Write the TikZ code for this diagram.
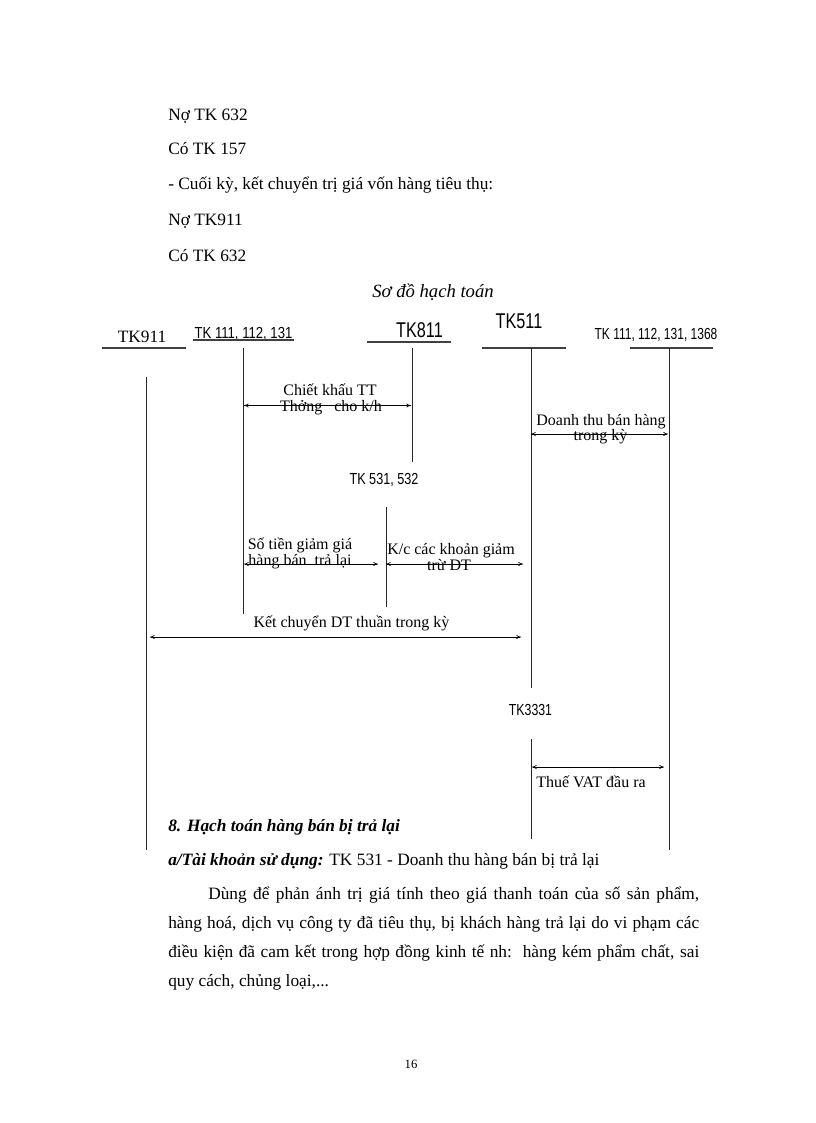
\documentclass[tikz,border=0pt]{standalone}
\usepackage{fontspec}
\setmainfont{Liberation Serif}
\newfontfamily\arialf{Liberation Sans}
\usepackage{graphicx}
\usetikzlibrary{arrows.meta}
\newcommand\condx[2]{\scalebox{#1}[1]{#2}}
\begin{document}
\begin{tikzpicture}[x=0.75pt,y=-0.75pt,
  body/.style={font=\fontsize{13pt}{15pt}\selectfont, inner sep=0pt, anchor=base west},
  lbl/.style={font=\fontsize{12pt}{14pt}\selectfont, inner sep=0pt, anchor=base},
  hdr/.style={font=\arialf\fontsize{12pt}{14pt}\selectfont, inner sep=0pt, anchor=base},
  hdrbig/.style={font=\arialf\fontsize{16pt}{18pt}\selectfont, inner sep=0pt, anchor=base},
  tline/.style={line width=0.6pt, black!85},
  uline/.style={line width=0.9pt, black!75},
  flow/.style={line width=0.5pt, {To[length=3.5pt,width=3pt]}-{To[length=3.5pt,width=3pt]}}
]
\useasboundingbox (0,0) rectangle (816,1123);
\fill[white] (0,0) rectangle (816,1123);

% top text
\node[body] (t1) at (168,121) {Nợ TK 632};
\node[body] (t2) at (168,155) {Có TK 157};
\node[body] (t3) at (168,190) {- Cuối kỳ, kết chuyển trị giá vốn hàng tiêu thụ:};
\node[body] (t4) at (168,226) {Nợ TK911};
\node[body] (t5) at (168,261) {Có TK 632};

\node[font=\itshape\fontsize{14pt}{16pt}\selectfont, inner sep=0pt, anchor=base] (title) at (433,297) {Sơ đồ hạch toán};

% headers
\node[body, anchor=base] (h911) at (142,342) {TK911};
\draw[uline] (102,348) -- (186,348);
\node[hdr] (h111) at (243.5,338) {\condx{0.82}{TK 111, 112, 131}};
\draw[uline] (193,340) -- (294,340);
\node[hdrbig] (h811) at (419.5,337) {\condx{0.76}{TK811}};
\draw[uline] (367,342) -- (451,342);
\node[hdrbig] (h511) at (519,328) {\condx{0.76}{TK511}};
\draw[uline] (482,348) -- (566,348);
\node[hdr] (h1368) at (656,339) {\condx{0.75}{TK 111, 112, 131, 1368}};
\draw[uline] (630,348) -- (713,348);
\node[hdr] (h531) at (384,484) {\condx{0.79}{TK 531, 532}};
\node[hdr] (h3331) at (530.5,715) {\condx{0.77}{TK3331}};

% account lines
\coordinate (Atop) at (146,377);  \coordinate (Abot) at (146,850);
\coordinate (Btop) at (243,348);  \coordinate (Bbot) at (243,614);
\coordinate (Ctop) at (412,348);  \coordinate (Cbot) at (412,462);
\coordinate (Dtop) at (386,507);  \coordinate (Dbot) at (386,607);
\coordinate (Etop) at (531,348);  \coordinate (Ebot) at (531,688);
\coordinate (Ftop) at (669,348);  \coordinate (Fbot) at (669,850);
\coordinate (Gtop) at (531,739);  \coordinate (Gbot) at (531,839);
\foreach \n in {A,B,C,D,E,F,G} \draw[tline] (\n top) -- (\n bot);

% arrows
\coordinate (ck1) at (244,405.5); \coordinate (ck2) at (411,405.5);
\coordinate (dt1) at (531,434);   \coordinate (dt2) at (668,434);
\coordinate (st1) at (244,564);   \coordinate (st2) at (378,564);
\coordinate (kc1) at (386,564);   \coordinate (kc2) at (523,564);
\coordinate (kd1) at (150,637);   \coordinate (kd2) at (521,637);
\coordinate (vt1) at (532,767);   \coordinate (vt2) at (664,767);
\draw[flow] (ck1) -- (ck2);
\draw[flow] (dt1) -- (dt2);
\draw[flow] (st1) -- (st2);
\draw[flow] (kc1) -- (kc2);
\draw[flow] (kd1) -- (kd2);
\draw[flow] (vt1) -- (vt2);

% labels
\node[lbl] (l1a) at (330,395) {Chiết khấu TT};
\node[lbl] (l1b) at (331,411) {Thởng\ \ \ cho k/h};
\node[lbl] (l2a) at (601,425) {Doanh thu bán hàng};
\node[lbl] (l2b) at (600.5,440) {trong kỳ};
\node[lbl] (l3a) at (300,549) {Số tiền giảm giá};
\node[lbl] (l3b) at (300,565) {hàng bán\ \ trả lại};
\node[lbl] (l4a) at (451,554) {K/c các khoản giảm};
\node[lbl] (l4b) at (449,570) {trừ DT};
\node[lbl] (l5) at (351.5,627) {Kết chuyển DT thuần trong kỳ};
\node[lbl, anchor=base west] (l6) at (536,787) {Thuế VAT đầu ra};

% bottom text
\node[body] (b1) at (168,831) {\textbf{\textit{8. Hạch toán hàng bán bị trả lại}}};
\node[body] (b2) at (168,865) {\textbf{\textit{a/Tài khoản sử dụng:}} TK 531 - Doanh thu hàng bán bị trả lại};
\node[body] (p1) at (208,899) {\makebox[368.25pt][s]{Dùng để phản ánh trị giá tính theo giá thanh toán của số sản phẩm,}};
\node[body] (p2) at (168,928) {\makebox[398.25pt][s]{hàng hoá, dịch vụ công ty đã tiêu thụ, bị khách hàng trả lại do vi phạm các}};
\node[body] (p3) at (168,957) {\makebox[398.25pt][s]{điều kiện đã cam kết trong hợp đồng kinh tế nh:\ \ hàng kém phẩm chất, sai}};
\node[body] (p4) at (168,986) {quy cách, chủng loại,...};
\node[font=\fontsize{9.5pt}{11pt}\selectfont, inner sep=0pt, anchor=base] (pg) at (411,1068) {16};
\end{tikzpicture}
\end{document}
